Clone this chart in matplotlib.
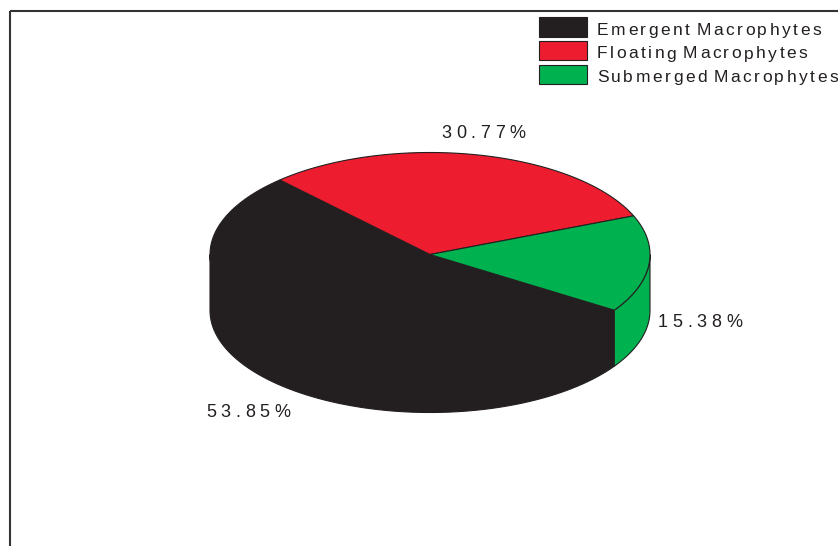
import numpy as np
import matplotlib
matplotlib.use("Agg")
import matplotlib.pyplot as plt
from matplotlib.patches import Polygon, Rectangle
from matplotlib import font_manager
from matplotlib.font_manager import FontProperties
from matplotlib.ft2font import FT2Font

labels = ["Emergent Macrophytes", "Floating Macrophytes", "Submerged Macrophytes"]
values = [53.85, 30.77, 15.38]
colors = ["#231f20", "#ed1c2e", "#00b14f"]

DPI = 100
W, H = 838, 546
FONT = "Liberation Sans"
font_path = font_manager.findfont(FontProperties(family=FONT))
ft = FT2Font(font_path)


def advances(s, size):
    ft.set_size(size, DPI)
    out = []
    for c in s:
        g = ft.load_char(ord(c))
        out.append(g.linearHoriAdvance / 65536.0)
    return out


def tracked_text(ax, x, y, s, size, track, ha="left", space_scale=1.0, color="#231f20"):
    # draw string glyph by glyph with extra letter spacing (pixels)
    adv = advances(s, size)
    adv = [a * space_scale if c == " " else a for a, c in zip(adv, s)]
    total = sum(adv) + track * (len(s) - 1)
    if ha == "center":
        x = x - total / 2
    for c, a in zip(s, adv):
        if c != " ":
            ax.text(x, y, c, fontsize=size, family=FONT, color=color,
                    ha="left", va="baseline")
        x += a + track


fig = plt.figure(figsize=(W / DPI, H / DPI), dpi=DPI)
ax = fig.add_axes([0, 0, 1, 1])
ax.set_xlim(0, W)
ax.set_ylim(H, 0)
ax.axis("off")

# frame (top and left edges visible)
ax.plot([9.5, W], [10.5, 10.5], color="#333333", lw=1.5, solid_capstyle="butt")
ax.plot([9.5, 9.5], [10.5, H], color="#333333", lw=1.5, solid_capstyle="butt")

# 3D pie geometry
cx, cy = 430, 254.5
rx, ry = 220, 102
depth = 56
start = -33.1  # degrees, slices run clockwise


def pt(t, dy=0.0):
    r = np.radians(t)
    return cx + rx * np.cos(r), cy - ry * np.sin(r) + dy


angles = []
a = start
for v in values:
    span = v / 100.0 * 360.0
    angles.append((a - span, a))  # CCW interval lo..hi
    a -= span

# side walls of the front half
for (lo, hi), col in zip(angles, colors):
    lo_n = lo % 360
    hi_n = lo_n + (hi - lo)
    for f0, f1 in [(180, 360), (540, 720)]:
        s0, s1 = max(lo_n, f0), min(hi_n, f1)
        if s1 > s0:
            ts = np.linspace(s0, s1, 80)
            top = [pt(t) for t in ts]
            bot = [pt(t, depth) for t in ts[::-1]]
            ax.add_patch(Polygon(top + bot, closed=True, facecolor=col,
                                 edgecolor="#231f20", lw=0.8, zorder=2))

# top face
for (lo, hi), col in zip(angles, colors):
    ts = np.linspace(lo, hi, 120)
    poly = [(cx, cy)] + [pt(t) for t in ts]
    ax.add_patch(Polygon(poly, closed=True, facecolor=col,
                         edgecolor="#231f20", lw=0.8, zorder=3))

# percentage labels
label_pos = [(248, 417), (483.5, 138), (700, 327)]
for v, (lx, ly) in zip(values, label_pos):
    tracked_text(ax, lx, ly, f"{v:.2f}%", 13, 4.6, ha="center")

# legend
sw_x, sw_w, sw_h = 539, 48, 19.5
sw_y = [17, 40.5, 64.5]
txt_y = [35, 58.5, 82]
for lab, col, yy, ty in zip(labels, colors, sw_y, txt_y):
    ax.add_patch(Rectangle((sw_x, yy), sw_w, sw_h, facecolor=col,
                           edgecolor="#231f20", lw=0.8, zorder=3))
    tracked_text(ax, 597, ty, lab, 12.5, 2.5, space_scale=0.35)

fig.savefig("out.png", dpi=DPI)
